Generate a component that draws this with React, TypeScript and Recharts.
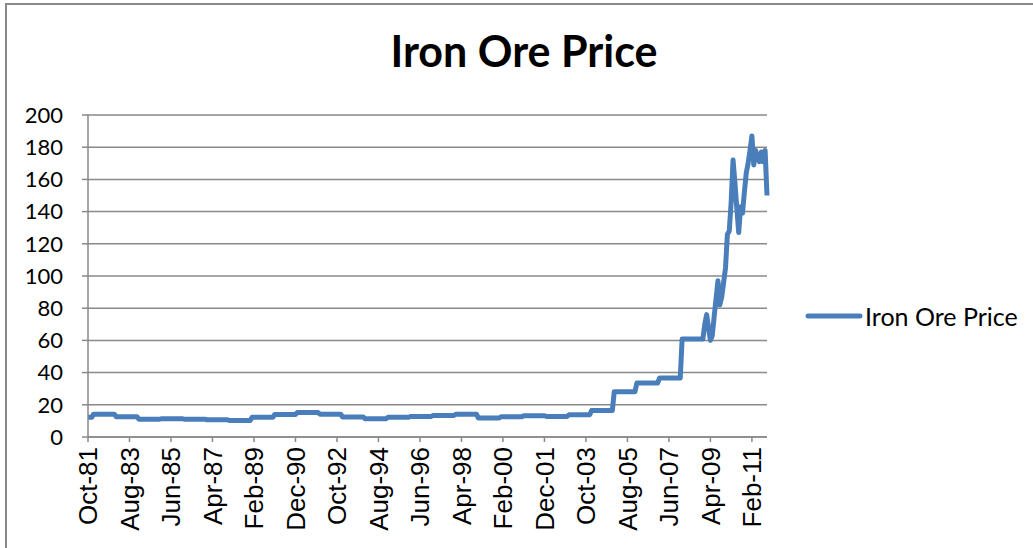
import React from "react";
import { LineChart, Line, XAxis, YAxis, CartesianGrid, Legend } from "recharts";

// monthly iron ore price, US$ per tonne, Oct-81 .. Oct-11
const MONTHS = ["Jan", "Feb", "Mar", "Apr", "May", "Jun", "Jul", "Aug", "Sep", "Oct", "Nov", "Dec"];
const START_YEAR = 1981;
const START_MONTH = 9; // Oct

const prices1980s = [
  12.2, 12.2, 12.2,
  14.2, 14.2, 14.2, 14.2, 14.2, 14.2, 14.2, 14.2, 14.2, 14.2, 14.2, 14.2,
  12.6, 12.6, 12.6, 12.6, 12.6, 12.6, 12.6, 12.6, 12.6, 12.6, 12.6, 12.6,
  11.1, 11.1, 11.1, 11.1, 11.1, 11.1, 11.1, 11.1, 11.1, 11.1, 11.1, 11.1,
  11.3, 11.3, 11.3, 11.3, 11.3, 11.3, 11.3, 11.3, 11.3, 11.3, 11.3, 11.3,
  11.1, 11.1, 11.1, 11.1, 11.1, 11.1, 11.1, 11.1, 11.1, 11.1, 11.1, 11.1,
  10.7, 10.7, 10.7, 10.7, 10.7, 10.7, 10.7, 10.7, 10.7, 10.7, 10.7, 10.7,
  10.3, 10.3, 10.3, 10.3, 10.3, 10.3, 10.3, 10.3, 10.3, 10.3, 10.3, 10.3,
  12.2, 12.2, 12.2, 12.2, 12.2, 12.2, 12.2, 12.2, 12.2, 12.2, 12.2, 12.2,
];

const prices1990s = [
  14.0, 14.0, 14.0, 14.0, 14.0, 14.0, 14.0, 14.0, 14.0, 14.0, 14.0, 14.0,
  15.2, 15.2, 15.2, 15.2, 15.2, 15.2, 15.2, 15.2, 15.2, 15.2, 15.2, 15.2,
  14.2, 14.2, 14.2, 14.2, 14.2, 14.2, 14.2, 14.2, 14.2, 14.2, 14.2, 14.2,
  12.4, 12.4, 12.4, 12.4, 12.4, 12.4, 12.4, 12.4, 12.4, 12.4, 12.4, 12.4,
  11.3, 11.3, 11.3, 11.3, 11.3, 11.3, 11.3, 11.3, 11.3, 11.3, 11.3, 11.3,
  12.2, 12.2, 12.2, 12.2, 12.2, 12.2, 12.2, 12.2, 12.2, 12.2, 12.2, 12.2,
  12.8, 12.8, 12.8, 12.8, 12.8, 12.8, 12.8, 12.8, 12.8, 12.8, 12.8, 12.8,
  13.4, 13.4, 13.4, 13.4, 13.4, 13.4, 13.4, 13.4, 13.4, 13.4, 13.4, 13.4,
  14.1, 14.1, 14.1, 14.1, 14.1, 14.1, 14.1, 14.1, 14.1, 14.1, 14.1, 14.1,
  11.8, 11.8, 11.8, 11.8, 11.8, 11.8, 11.8, 11.8, 11.8, 11.8, 11.8, 11.8,
];

const prices2000s = [
  12.6, 12.6, 12.6, 12.6, 12.6, 12.6, 12.6, 12.6, 12.6, 12.6, 12.6, 12.6,
  13.2, 13.2, 13.2, 13.2, 13.2, 13.2, 13.2, 13.2, 13.2, 13.2, 13.2, 13.2,
  12.8, 12.8, 12.8, 12.8, 12.8, 12.8, 12.8, 12.8, 12.8, 12.8, 12.8, 12.8,
  13.8, 13.8, 13.8, 13.8, 13.8, 13.8, 13.8, 13.8, 13.8, 13.8, 13.8, 13.8,
  16.4, 16.4, 16.4, 16.4, 16.4, 16.4, 16.4, 16.4, 16.4, 16.4, 16.4, 16.4,
  28.1, 28.1, 28.1, 28.1, 28.1, 28.1, 28.1, 28.1, 28.1, 28.1, 28.1, 28.1,
  33.5, 33.5, 33.5, 33.5, 33.5, 33.5, 33.5, 33.5, 33.5, 33.5, 33.5, 33.5,
  36.6, 36.6, 36.6, 36.6, 36.6, 36.6, 36.6, 36.6, 36.6, 36.6, 36.6, 36.6,
  60.8, 60.8, 60.8, 60.8, 60.8, 60.8, 60.8, 60.8, 60.8, 60.8, 60.8, 60.8,
];

const pricesSpot = [
  70, 76, 68, 60, 63, 75, 86, 97, 82, 87, 96, 105,
  126, 128, 146, 172, 158, 142, 127, 143, 139, 152, 164, 170,
  178, 187, 169, 178, 173, 171, 177, 171, 178, 150,
];

const prices = [...prices1980s, ...prices1990s, ...prices2000s, ...pricesSpot];

const data = prices.map((price, i) => {
  const m = START_MONTH + i;
  const year = START_YEAR + Math.floor(m / 12);
  return { month: `${MONTHS[m % 12]}-${String(year % 100).padStart(2, "0")}`, price };
});

const yTicks = [0, 20, 40, 60, 80, 100, 120, 140, 160, 180, 200];

const GRAY = "#898989";
const BLUE = "#4A7EBB";

const MonthTick = ({ x, y, payload }: any) => (
  <text
    x={x}
    y={y}
    transform={`rotate(-90, ${x}, ${y})`}
    textAnchor="end"
    dy="0.36em"
    fontSize={26}
    fontFamily="Liberation Sans, Arial, sans-serif"
    fill="#000"
  >
    {payload.value}
  </text>
);

const LegendBox = () => (
  <div style={{ display: "flex", alignItems: "center", fontFamily: "Lato, sans-serif", fontSize: 25 }}>
    <svg width={58} height={10}>
      <line x1={3} y1={5} x2={55} y2={5} stroke={BLUE} strokeWidth={5} strokeLinecap="round" />
    </svg>
    <span style={{ marginLeft: 2, color: "#000" }}>Iron Ore Price</span>
  </div>
);

export default function App() {
  return (
    <div style={{ position: "absolute", left: 0, top: 0, width: 1033, height: 548, overflow: "hidden", background: "#fff" }}>
      <div
        style={{
          position: "absolute",
          left: 5,
          top: 3,
          width: 1100,
          height: 600,
          border: `2px solid ${GRAY}`,
        }}
      />
      <div
        style={{
          position: "absolute",
          left: 0,
          width: 1048,
          top: 25,
          textAlign: "center",
          fontFamily: "Lato, sans-serif",
          fontWeight: 700,
          fontSize: 43,
          color: "#000",
        }}
      >
        Iron Ore Price
      </div>
      <div style={{ position: "absolute", left: 0, top: 0 }}>
        <LineChart
          width={1033}
          height={548}
          data={data}
          margin={{ top: 115, right: 266, bottom: 0, left: 0 }}
          style={{ fontFamily: "Lato, sans-serif" }}
        >
          <CartesianGrid vertical={false} stroke={GRAY} strokeWidth={1.5} />
          <XAxis
            dataKey="month"
            interval={21}
            height={111}
            tickSize={5}
            tickMargin={5}
            tick={<MonthTick />}
            tickLine={{ stroke: GRAY, strokeWidth: 1.5 }}
            axisLine={{ stroke: GRAY, strokeWidth: 1.5 }}
          />
          <YAxis
            domain={[0, 200]}
            ticks={yTicks}
            width={88}
            tickSize={6}
            tickMargin={19}
            tick={{ fill: "#000", fontSize: 22, fontFamily: "Lato, sans-serif" }}
            tickLine={{ stroke: GRAY, strokeWidth: 1.5 }}
            axisLine={{ stroke: GRAY, strokeWidth: 1.5 }}
          />
          <Line
            type="linear"
            dataKey="price"
            name="Iron Ore Price"
            stroke={BLUE}
            strokeWidth={5}
            strokeLinejoin="round"
            dot={false}
            isAnimationActive={false}
          />
          <Legend
            layout="horizontal"
            verticalAlign="middle"
            align="center"
            content={<LegendBox />}
            wrapperStyle={{ left: 805, top: 301, width: 228 }}
          />
        </LineChart>
      </div>
    </div>
  );
}
